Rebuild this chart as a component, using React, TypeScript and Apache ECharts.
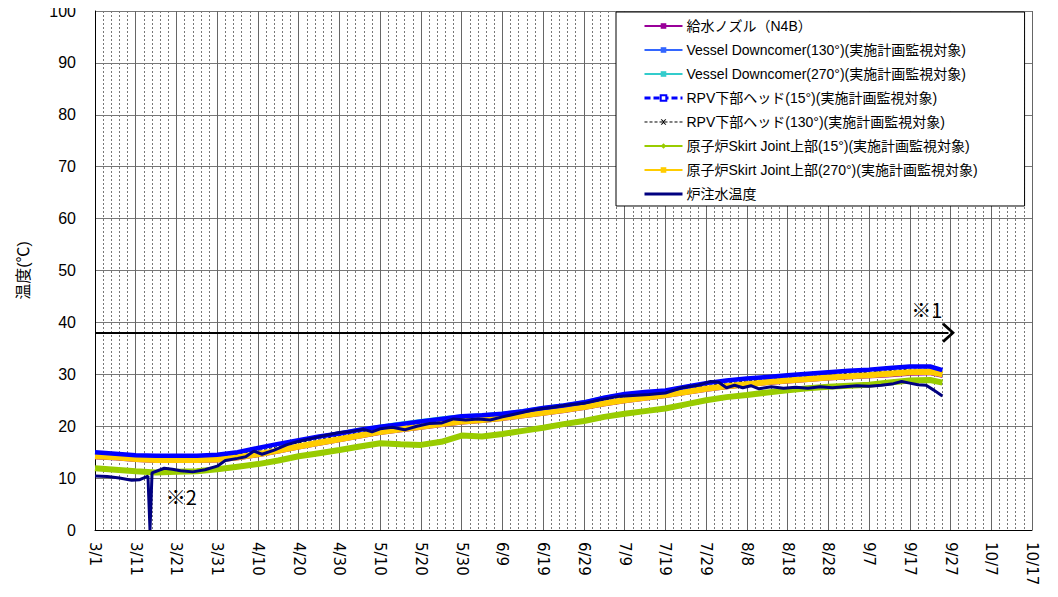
import React, { useEffect, useRef } from "react";
import * as echarts from "echarts";

// day offsets from 3/1
const commonDays = [0, 5, 10, 15, 20, 25, 30, 35, 40, 45, 50, 55, 60, 65, 70, 75, 80, 85, 90, 95, 100, 105, 110, 115, 120, 125, 130, 135, 140, 145, 150, 155, 160, 165, 170, 175, 180, 185, 190, 195, 200, 205, 208];

const feedNozzle = [13.7, 13.5, 13.2, 13.0, 13.0, 13.0, 13.1, 13.5, 14.1, 14.8, 15.6, 16.3, 17.0, 17.7, 18.4, 18.9, 19.4, 19.9, 20.4, 20.7, 21.1, 21.6, 22.1, 22.6, 23.2, 23.9, 24.5, 25.0, 25.5, 26.1, 26.7, 27.2, 27.6, 28.0, 28.3, 28.6, 28.9, 29.1, 29.3, 29.5, 29.8, 29.9, 29.4];
const vessel130 = [14.9, 14.6, 14.3, 14.2, 14.2, 14.2, 14.4, 14.9, 15.7, 16.5, 17.2, 17.9, 18.5, 19.2, 19.8, 20.3, 20.8, 21.3, 21.8, 22.0, 22.3, 22.8, 23.4, 23.9, 24.5, 25.4, 26.1, 26.5, 26.8, 27.5, 28.2, 28.7, 29.1, 29.4, 29.7, 30.0, 30.3, 30.6, 30.8, 31.1, 31.4, 31.4, 30.7];
const vessel270 = [15.0, 14.7, 14.4, 14.3, 14.3, 14.3, 14.5, 15.0, 15.9, 16.7, 17.5, 18.2, 18.9, 19.6, 20.2, 20.8, 21.3, 21.8, 22.2, 22.4, 22.7, 23.2, 23.8, 24.3, 24.9, 25.8, 26.4, 26.7, 27.0, 27.6, 28.3, 28.8, 29.2, 29.5, 29.8, 30.1, 30.4, 30.7, 30.9, 31.2, 31.5, 31.5, 30.8];
const rpv15 = [15.0, 14.7, 14.4, 14.3, 14.3, 14.3, 14.5, 15.0, 15.8, 16.6, 17.3, 18.0, 18.6, 19.3, 19.9, 20.4, 20.9, 21.4, 21.9, 22.1, 22.4, 22.9, 23.5, 24.0, 24.6, 25.5, 26.2, 26.6, 26.9, 27.6, 28.3, 28.8, 29.2, 29.5, 29.8, 30.1, 30.4, 30.7, 30.9, 31.2, 31.5, 31.5, 30.8];
const rpv130 = [14.6, 14.3, 14.0, 13.9, 13.9, 13.9, 14.1, 14.6, 15.3, 16.1, 16.8, 17.5, 18.1, 18.8, 19.4, 19.9, 20.4, 20.9, 21.4, 21.6, 21.9, 22.4, 23.0, 23.5, 24.1, 25.0, 25.7, 26.1, 26.4, 27.1, 27.8, 28.3, 28.7, 29.0, 29.3, 29.6, 29.9, 30.2, 30.4, 30.7, 31.0, 31.0, 30.3];
const skirt15 = [11.9, 11.6, 11.3, 11.1, 11.2, 11.3, 11.7, 12.2, 12.7, 13.4, 14.2, 14.8, 15.4, 16.1, 16.7, 16.5, 16.4, 17.0, 18.2, 18.0, 18.5, 19.1, 19.7, 20.4, 21.0, 21.8, 22.4, 22.9, 23.4, 24.2, 25.0, 25.6, 26.0, 26.5, 26.9, 27.3, 27.6, 27.8, 28.0, 28.4, 28.8, 28.9, 28.4];
const skirt270 = [14.2, 14.0, 13.7, 13.5, 13.5, 13.5, 13.6, 14.0, 14.6, 15.3, 16.1, 16.8, 17.5, 18.2, 18.9, 19.4, 19.9, 20.4, 20.9, 21.2, 21.6, 22.1, 22.6, 23.1, 23.7, 24.4, 25.0, 25.5, 26.0, 26.6, 27.2, 27.7, 28.1, 28.5, 28.8, 29.1, 29.4, 29.6, 29.8, 30.1, 30.4, 30.5, 30.0];

const injDays = [0, 3, 6, 9, 11, 13, 13.5, 14, 17, 19, 21, 24, 27, 30, 32, 35, 37, 39, 41, 44, 47, 50, 54, 57, 60, 63, 66, 68, 70, 73, 76, 79, 82, 85, 88, 91, 94, 97, 100, 104, 108, 112, 116, 120, 124, 128, 132, 136, 140, 144, 148, 151, 153, 155, 157, 159, 161, 163, 166, 169, 172, 175, 178, 181, 184, 187, 190, 193, 196, 198, 200, 202, 204, 206, 208];
const injTemp = [10.4, 10.3, 10.0, 9.6, 9.7, 10.4, 0, 11.0, 11.9, 11.7, 11.4, 11.2, 11.6, 12.3, 13.4, 13.8, 14.1, 15.2, 14.6, 15.4, 16.4, 17.1, 17.8, 18.3, 18.8, 19.0, 19.4, 18.9, 19.5, 19.8, 19.3, 20.0, 20.5, 20.6, 21.4, 21.2, 21.4, 21.2, 21.8, 22.5, 23.2, 23.6, 24.1, 24.4, 25.1, 25.7, 25.9, 26.1, 26.4, 27.4, 27.9, 28.6, 28.5, 27.4, 27.9, 27.4, 27.8, 27.2, 27.6, 27.3, 27.5, 27.3, 27.6, 27.4, 27.6, 27.8, 27.7, 27.9, 28.2, 28.6, 28.3, 28.0, 27.9, 26.9, 25.8];

const seriesNames = [
  "給水ノズル（N4B）",
  "Vessel Downcomer(130°)(実施計画監視対象)",
  "Vessel Downcomer(270°)(実施計画監視対象)",
  "RPV下部ヘッド(15°)(実施計画監視対象)",
  "RPV下部ヘッド(130°)(実施計画監視対象)",
  "原子炉Skirt Joint上部(15°)(実施計画監視対象)",
  "原子炉Skirt Joint上部(270°)(実施計画監視対象)",
  "炉注水温度",
];

const yAxisName = "温度(℃)";
const note1 = "※1";
const note2 = "※2";
const limitValue = 38;
const limitEndDay = 209.5;

const pair = (days: number[], vals: number[]) => days.map((d, i) => [d, vals[i]]);
const fmtDay = (d: number) => {
  const dt = new Date(Date.UTC(2013, 2, 1) + d * 86400000);
  return `${dt.getUTCMonth() + 1}/${dt.getUTCDate()}`;
};

const FONT = "'Liberation Sans', 'Noto Sans CJK JP', sans-serif";
const CROSS = "path://M0,0L2,0L5,3L8,0L10,0L6,5L10,10L8,10L5,7L2,10L0,10L4,5Z";
const CHEVRON = "path://M0,11L10,0L20,11L18,13L10,4L2,13Z";
const BAR_ICON = "path://M0,0L40,0L40,3L0,3Z";

export default function App() {
  const ref = useRef<HTMLDivElement>(null);
  useEffect(() => {
    if (!ref.current) return;
    const chart = echarts.init(ref.current, undefined, { renderer: "svg" });
    const mk = (i: number, vals: number[], color: string, width: number, symbol: string, symbolSize: number, z: number, extra: any = {}) => ({
      name: seriesNames[i],
      type: "line",
      data: pair(commonDays, vals),
      showSymbol: false,
      symbol,
      symbolSize,
      z,
      lineStyle: { color, width },
      itemStyle: { color },
      ...extra,
    });
    chart.setOption({
      animation: false,
      textStyle: { fontFamily: FONT },
      grid: { left: 95, right: 26, top: 11, bottom: 67, containLabel: false },
      xAxis: {
        type: "value",
        min: 0,
        max: 230,
        interval: 10,
        axisLine: { lineStyle: { color: "#000", width: 1 } },
        axisTick: { show: false },
        minorTick: { show: false, splitNumber: 5 },
        axisLabel: { rotate: -90, formatter: fmtDay, fontSize: 15, color: "#000", margin: 12, fontFamily: "'DejaVu Sans', sans-serif" },
        splitLine: { show: true, lineStyle: { color: "#666", width: 1 } },
        minorSplitLine: { show: true, lineStyle: { color: "#777", width: 1, type: [2, 2] } },
      },
      yAxis: {
        type: "value",
        min: 0,
        max: 100,
        interval: 10,
        name: yAxisName,
        nameLocation: "middle",
        nameGap: 64,
        nameTextStyle: { fontSize: 16, color: "#000", fontFamily: FONT },
        axisLine: { show: true, lineStyle: { color: "#000", width: 1 } },
        axisTick: { show: false },
        axisLabel: { fontSize: 16, color: "#000", margin: 19, fontFamily: FONT },
        splitLine: { show: true, lineStyle: { color: "#777", width: 1 } },
      },
      legend: {
        orient: "vertical",
        left: 616,
        top: 12,
        padding: [7, 47, 5, 27],
        itemWidth: 38,
        itemHeight: 7,
        itemGap: 10,
        backgroundColor: "#fff",
        borderColor: "#000",
        borderWidth: 1,
        textStyle: { fontSize: 14, color: "#000", fontFamily: FONT, padding: [0, 0, 0, -1] },
        data: seriesNames.map((n, i) =>
          i === 3
            ? { name: n, lineStyle: { type: [6, 3], width: 3 } }
            : i === 4
            ? { name: n, lineStyle: { type: [3, 2], width: 1 } }
            : i === 7
            ? { name: n, icon: BAR_ICON }
            : { name: n }
        ),
      },
      series: [
        mk(0, feedNozzle, "#990099", 1, "rect", 4, 2),
        mk(1, vessel130, "#3366ff", 1, "rect", 3, 3),
        mk(2, vessel270, "#33cccc", 1, "rect", 3, 3),
        mk(3, rpv15, "#0000ff", 4.5, "rect", 6, 6, { itemStyle: { color: "#fff", borderColor: "#0000ff", borderWidth: 1.5 } }),
        mk(4, rpv130, "#000000", 1, CROSS, 5, 4, { lineStyle: { color: "#000", width: 1, type: [3, 2] } }),
        mk(5, skirt15, "#99cc00", 6, "diamond", 5, 5),
        mk(6, skirt270, "#ffcc00", 6, "rect", 6, 5),
        {
          name: seriesNames[7],
          type: "line",
          data: pair(injDays, injTemp),
          showSymbol: false,
          symbol: "none",
          z: 7,
          lineStyle: { color: "#000080", width: 3 },
          itemStyle: { color: "#000080" },
          markLine: {
            silent: true,
            symbol: ["none", CHEVRON],
            symbolSize: [20, 13],
            lineStyle: { color: "#000", width: 2, type: "solid" },
            label: { show: false },
            data: [[{ coord: [0, limitValue] }, { coord: [limitEndDay, limitValue] }]],
          },
          markPoint: {
            silent: true,
            symbolSize: 0,
            label: { show: true, position: "inside", fontSize: 20, color: "#000", fontFamily: "'Noto Sans CJK JP', sans-serif" },
            data: [
              { coord: [204.2, 42.4], value: note1, label: { formatter: note1 } },
              { coord: [21.2, 6.4], value: note2, label: { formatter: note2 } },
            ],
          },
        },
      ],
    });
    return () => chart.dispose();
  }, []);
  return <div ref={ref} style={{ width: 1058, height: 597, margin: -8 }} />;
}
